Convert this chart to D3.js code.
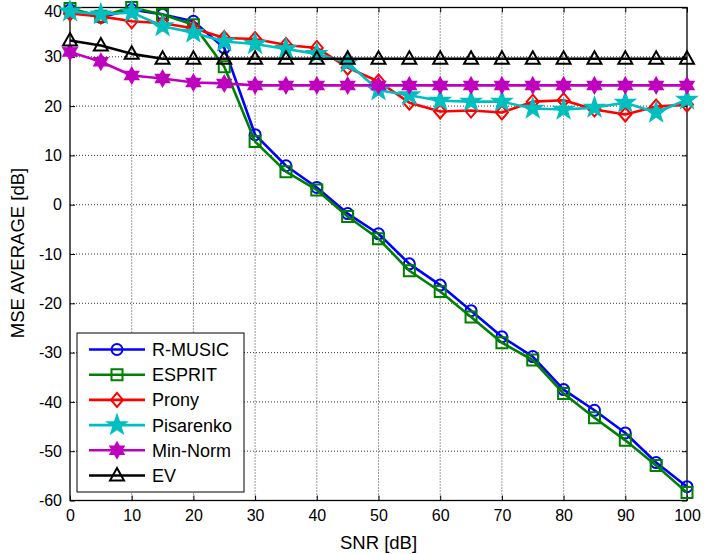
<!DOCTYPE html>
<html><head><meta charset="utf-8">
<script src="https://cdn.jsdelivr.net/npm/d3@7"></script>
<style>body{margin:0;background:#fff}svg{display:block;font-family:Arial,"Liberation Sans",sans-serif}</style>
</head><body><svg id="c" width="717" height="554"></svg>
<script>
const snr = [0,5,10,15,20,25,30,35,40,45,50,55,60,65,70,75,80,85,90,95,100];
const rmusic = [39.5,38,39.6,38.6,37.2,31.8,14.2,7.9,3.5,-1.8,-5.9,-12,-16.3,-21.5,-26.8,-30.8,-37.5,-41.7,-46.3,-52.3,-57.2];
const esprit = [39.8,38.2,40,38.6,36.5,28,12.8,6.7,3.0,-2.4,-6.9,-13.4,-17.6,-22.8,-28,-31.5,-38.3,-43.2,-47.8,-52.9,-58.4];
const prony = [38.8,38.2,37.2,36.8,35.8,33.8,33.6,32.4,31.8,27.8,25,20.7,18.9,19.1,18.7,20.9,21.2,19.3,18.3,19.9,20.3];
const pisarenko = [39.2,38.6,39,36.2,34.9,33.1,32.6,31.6,30.6,28.8,23.2,22.2,21.1,20.9,20.9,19.5,19.3,19.7,20.7,18.7,21.3];
const minnorm = [31,29,26.2,25.6,24.8,24.6,24.2,24.2,24.2,24.2,24.2,24.2,24.2,24.2,24.2,24.2,24.2,24.2,24.2,24.2,24.2];
const ev = [33.3,32.3,30.6,29.6,29.6,29.6,29.6,29.6,29.6,29.6,29.6,29.6,29.6,29.6,29.6,29.6,29.6,29.6,29.6,29.6,29.6];
const seriesNames = ["R-MUSIC","ESPRIT","Prony","Pisarenko","Min-Norm","EV"];
const xTicks = [0,10,20,30,40,50,60,70,80,90,100];
const yTicks = [-60,-50,-40,-30,-20,-10,0,10,20,30,40];

const series = [
  {name:seriesNames[0], values:rmusic, color:"#0000ff", marker:"circle"},
  {name:seriesNames[1], values:esprit, color:"#008000", marker:"square"},
  {name:seriesNames[2], values:prony, color:"#ff0000", marker:"diamond"},
  {name:seriesNames[3], values:pisarenko, color:"#00bfbf", marker:"pentagram"},
  {name:seriesNames[4], values:minnorm, color:"#bf00bf", marker:"hexagram"},
  {name:seriesNames[5], values:ev, color:"#000000", marker:"triangle"}
];

const L=70, R=687, T=7.5, B=500.5;
const svg = d3.select("#c");
const x = d3.scaleLinear().domain([0,100]).range([L,R]);
const y = d3.scaleLinear().domain([-60,40]).range([B,T]);

// grid
const g = svg.append("g");
xTicks.forEach(t=>{ if(t>0&&t<100) g.append("line").attr("x1",x(t)).attr("x2",x(t)).attr("y1",T).attr("y2",B)
  .attr("stroke","#222").attr("stroke-width",0.9).attr("stroke-dasharray","1,2"); });
yTicks.forEach(t=>{ if(t>-60&&t<40) g.append("line").attr("x1",L).attr("x2",R).attr("y1",y(t)).attr("y2",y(t))
  .attr("stroke","#222").attr("stroke-width",0.9).attr("stroke-dasharray","1,2"); });

// axes
const fmt = d => String(d);
const ax = svg.append("g").attr("transform",`translate(0,${B})`)
  .call(d3.axisBottom(x).tickValues(xTicks).tickSize(-5).tickPadding(9).tickFormat(fmt));
const axt = svg.append("g").attr("transform",`translate(0,${T})`)
  .call(d3.axisTop(x).tickValues(xTicks).tickSize(-5).tickFormat(""));
const ay = svg.append("g").attr("transform",`translate(${L},0)`)
  .call(d3.axisLeft(y).tickValues(yTicks).tickSize(-5).tickPadding(8).tickFormat(fmt));
const ayr = svg.append("g").attr("transform",`translate(${R},0)`)
  .call(d3.axisRight(y).tickValues(yTicks).tickSize(-5).tickFormat(""));
[ax,axt,ay,ayr].forEach(a=>{
  a.select(".domain").remove();
  a.selectAll("line").attr("stroke","#000").attr("stroke-width",1);
  a.selectAll("text").attr("fill","#000").style("font-size","16px").style("font-family","Arial, 'Liberation Sans', sans-serif");
});
// top label sits slightly lower, as in the reference (kept inside the frame)
ay.selectAll(".tick").filter(d=>d===40).select("text").attr("dy","0.55em");
svg.append("rect").attr("x",L).attr("y",T).attr("width",R-L).attr("height",B-T)
  .attr("fill","none").attr("stroke","#000").attr("stroke-width",1.3);

// marker paths
function star(n, ro, ri){
  const pts=[];
  for(let i=0;i<2*n;i++){
    const r = i%2===0?ro:ri;
    const a = -Math.PI/2 + i*Math.PI/n;
    pts.push([r*Math.cos(a), r*Math.sin(a)]);
  }
  return "M"+pts.map(p=>p[0].toFixed(2)+","+p[1].toFixed(2)).join("L")+"Z";
}
const markers = {
  circle: {d:d3.symbol(d3.symbolCircle, Math.PI*5.5*5.5)(), fill:false},
  square: {d:"M-5.5,-5.5L5.5,-5.5L5.5,5.5L-5.5,5.5Z", fill:false},
  diamond: {d:"M0,-7L6,0L0,7L-6,0Z", fill:false},
  pentagram: {d:star(5,9.5,3.8), fill:true},
  hexagram: {d:star(6,7.5,4.3), fill:true},
  triangle: {d:"M0,-7.5L7,5L-7,5Z", fill:false}
};

const line = d3.line().x((d,i)=>x(snr[i])).y(d=>y(d));
series.forEach(s=>{
  const gg = svg.append("g");
  gg.append("path").datum(s.values).attr("d",line).attr("fill","none")
    .attr("stroke",s.color).attr("stroke-width",2.6).attr("stroke-linejoin","round");
  const m = markers[s.marker];
  gg.selectAll("path.m").data(s.values).enter().append("path").attr("class","m")
    .attr("d",m.d).attr("transform",(d,i)=>`translate(${x(snr[i])},${y(d)})`)
    .attr("fill",m.fill?s.color:"none").attr("stroke",s.color).attr("stroke-width",2);
});

// legend
const lg = svg.append("g");
lg.append("rect").attr("x",77).attr("y",333).attr("width",167).attr("height",159)
  .attr("fill","#fff").attr("stroke","#000").attr("stroke-width",1);
series.forEach((s,i)=>{
  const yy = 349.5 + i*25.2;
  lg.append("line").attr("x1",89).attr("x2",145).attr("y1",yy).attr("y2",yy)
    .attr("stroke",s.color).attr("stroke-width",2.6);
  const m = markers[s.marker];
  lg.append("path").attr("d",m.d).attr("transform",`translate(117,${yy})`)
    .attr("fill",m.fill?s.color:"none").attr("stroke",s.color).attr("stroke-width",2);
  lg.append("text").attr("x",152).attr("y",yy).attr("dy","0.36em").text(s.name)
    .style("font-size","18px").attr("fill","#000");
});

// axis labels
svg.append("text").attr("x",(L+R)/2).attr("y",549).attr("text-anchor","middle")
  .style("font-size","18.5px").text("SNR [dB]");
svg.append("text").attr("transform",`translate(24,${(T+B)/2-1}) rotate(-90)`).attr("text-anchor","middle")
  .style("font-size","18.5px").text("MSE AVERAGE [dB]");
</script></body></html>
